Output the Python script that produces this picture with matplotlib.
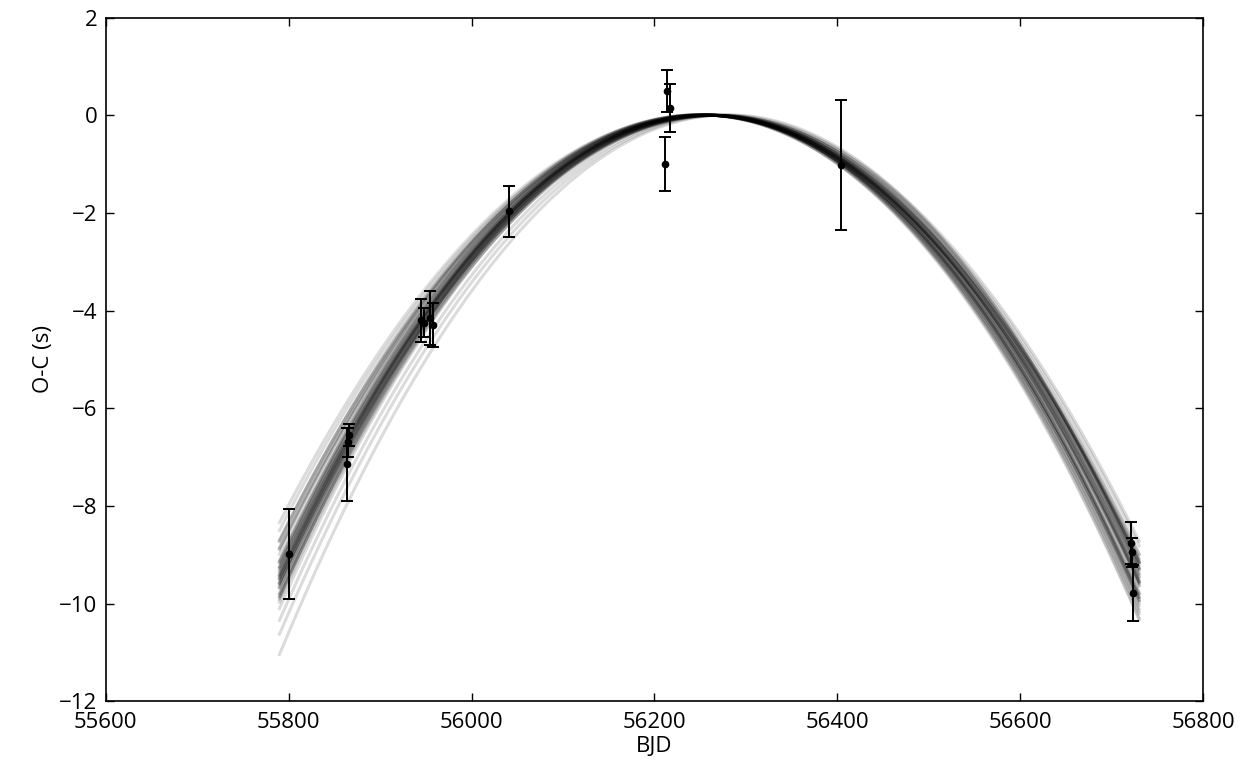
import matplotlib
matplotlib.use("Agg")
import matplotlib.pyplot as plt
import numpy as np

# Messpunkte (BJD, O-C in s, Fehler)
bjd = [55800, 55866, 55865, 55864, 55945, 55948, 55955, 55958, 56041,
       56214, 56217, 56211, 56404, 56721, 56722, 56723]
oc = [-8.98, -6.55, -6.70, -7.15, -4.20, -4.25, -4.15, -4.30, -1.97,
      0.50, 0.15, -1.00, -1.02, -8.75, -8.95, -9.78]
oc_err = [0.92, 0.22, 0.30, 0.75, 0.44, 0.30, 0.56, 0.45, 0.52,
          0.43, 0.50, 0.55, 1.33, 0.43, 0.30, 0.57]

# Modell-Samples: O-C = -c (t - T)^2 + b (t - T)
t_ref = 56265.0
c_samples = [4.30, 4.22, 4.38, 4.15, 4.45, 4.10, 4.50, 4.25, 4.35, 4.28,
             4.05, 4.55, 4.18, 4.42, 4.30, 4.12, 4.48, 4.20, 4.40, 4.33,
             4.27, 4.08, 4.52, 4.14, 4.46, 4.02, 3.95, 4.55, 4.60, 4.50,
             4.12, 4.48, 4.24, 4.36, 4.19, 4.41, 4.00, 4.47, 4.30, 4.26,
             4.34, 4.16, 4.44, 4.29, 4.31]  # 1e-5 s/d^2
b_samples = [-0.6, -0.2, -1.0, -0.4, -0.9, 0.1, -1.3, -0.7, -0.3, -1.1,
             -0.5, -0.8, -1.2, 0.0, 0.3, -0.9, -0.4, 0.2, -1.4, -0.6,
             -0.1, -1.0, -0.2, -1.3, -1.0, -0.8, -1.2, -1.0, 1.4, 1.0,
             0.4, 0.5, -0.5, -0.8, -0.7, -0.2, -1.1, -0.6, -1.5, 0.1,
             -0.9, -0.3, -0.7, -0.4, -1.2]  # 1e-3 s/d
t_start, t_end = 55790, 56730


def plotter():
    plt.rcParams['font.family'] = ['Open Sans', 'DejaVu Sans']
    plt.rcParams['xtick.direction'] = 'in'
    plt.rcParams['ytick.direction'] = 'in'

    fig = plt.figure(figsize=(12.43, 7.68), dpi=100, facecolor='white')
    ax = fig.add_axes([0.085, 0.087, 0.883, 0.89])

    t = np.linspace(t_start, t_end, 400)
    for c5, b3 in zip(c_samples, b_samples):
        dt = t - t_ref
        ax.plot(t, -c5 * 1e-5 * dt**2 + b3 * 1e-3 * dt, color='k', alpha=0.14, linewidth=2.2)

    ax.errorbar(bjd, oc, yerr=oc_err, fmt='k.', markersize=9, capsize=4,
                elinewidth=1.4, capthick=1.4, ecolor='k')

    ax.set_xlim(55600, 56800)
    ax.set_ylim(-12, 2)
    ax.set_xticks(np.arange(55600, 56801, 200))
    ax.set_yticks(np.arange(-12, 3, 2))
    ax.tick_params(top=True, right=True, labelsize=16, length=6, width=1, pad=6)
    ax.tick_params(axis='x', pad=8)
    ax.set_xlabel('BJD', fontsize=16, labelpad=2)
    ax.set_ylabel('O-C (s)', fontsize=16)
    for s in ax.spines.values():
        s.set_linewidth(1.2)

    plt.savefig('out.png', dpi=100, facecolor='white')


if __name__ == "__main__":
    plotter()
